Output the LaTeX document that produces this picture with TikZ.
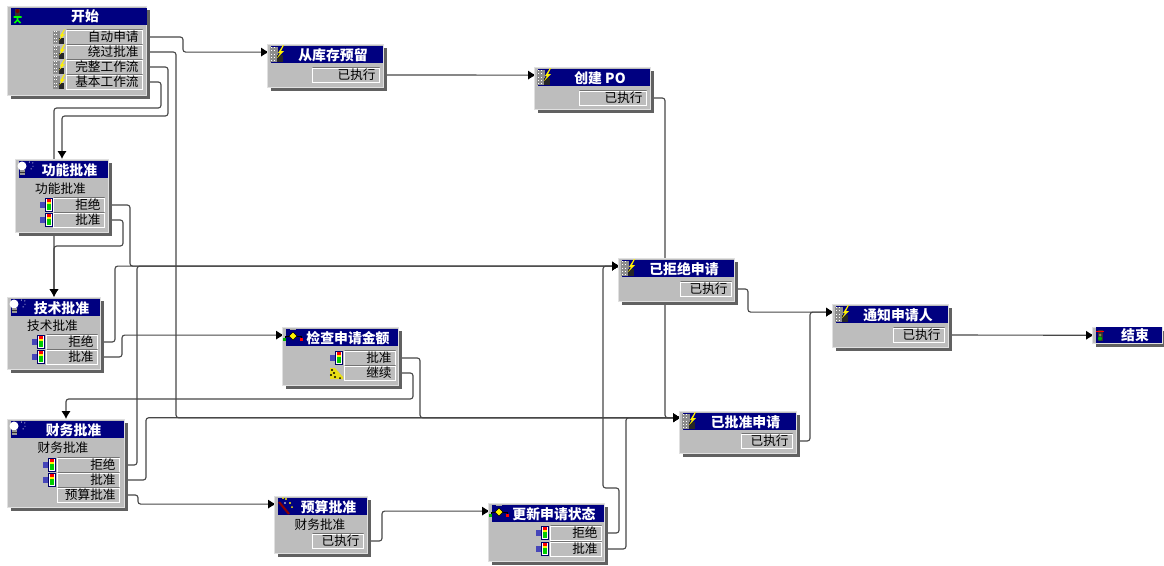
\documentclass[tikz,border=0pt]{standalone}
\usepackage{xcolor}
\usepackage{fontspec}
\setmainfont{Noto Sans CJK SC}
\usepackage{tikz}
\usetikzlibrary{positioning,shapes,arrows.meta,shadows,backgrounds}
\definecolor{barblue}{HTML}{000080}
\definecolor{panel}{HTML}{BDBDBD}
\tikzset{
  box/.style 2 args = {rectangle, anchor=north west, fill=panel, draw=black!12, line width=0.75pt,
    minimum width=#1*0.75pt, minimum height=#2*0.75pt, inner sep=0pt,
    drop shadow={shadow xshift=2.25pt, shadow yshift=-2.25pt, fill=black!62, opacity=1}},
  head/.style 2 args = {rectangle, anchor=north west, fill=barblue, text=white, inner sep=0pt, outer xsep=1.5pt,
    minimum width=#1*0.75pt, minimum height=#2*0.75pt, font=\fontsize{10.4}{10.4}\selectfont\bfseries,
    execute at begin node=\hspace*{9pt}},
  row/.style = {rectangle, anchor=east, fill=panel, inner xsep=3pt, inner ysep=0pt, align=right,
    text width=#1*0.75pt-6pt, minimum height=10.6pt, text height=8pt, text depth=1.6pt,
    font=\fontsize{9.5}{9.5}\selectfont, draw=white, line width=0.6pt,
    path picture={\draw [black!55, line width=1.2pt] (path picture bounding box.south west) |- (path picture bounding box.north east);}},
  pics/flagicon/.style = {code={
    \fill [blue!45!gray] (-7,-3) rectangle (-2,3);
    \fill [white] (-2,-7) rectangle (5,6);
    \draw [blue!40!black, line width=0.4pt] (-2,-7) rectangle (5,6);
    \fill [red] (0,-6) rectangle (4,-3);
    \fill [yellow] (0,-3) rectangle (4,-1);
    \fill [green!80!black] (0,-1) rectangle (4,5);
  }},
  pics/bolticon/.style = {code={
    \fill [black!45] (-7,-7) rectangle (1,8);
    \draw [white, line width=0.5pt, dotted] (-6,-7) -- (-6,8) (-3,-7) -- (-3,8);
    \fill [black!85] (0,1) rectangle (6,8);
    \fill [yellow] (6,-9) -- (1,-1) -- (3,-1) -- (0,4) -- (7,-3) -- (4,-3) -- (7,-9) -- cycle;
  }},
  pics/bulbicon/.style = {code={
    \fill [white] (0,-2) circle (4.5);
    \fill [black!40] (-2.5,2) rectangle (2.5,7);
    \draw [black!80, line width=0.4pt] (-2.5,4) -- (2.5,4);
    \draw [white, line width=0.6pt, dotted] (7,-6) -- (11,-5) -- (11,-1) -- (8,2);
  }},
  pics/walkicon/.style = {code={
    \fill [black!80] (-2.5,-7) rectangle (2.5,1);
    \fill [red!45!black] (0,-5) circle (2);
    \draw [green, line width=1.2pt] (0,1) -- (0,4) (-4,1) -- (4,1) (-3,7) -- (0,4) -- (3,7);
  }},
  pics/stopicon/.style = {code={
    \fill [black!80] (-2.5,-5) rectangle (2.5,6);
    \fill [red] (-4,-4) rectangle (4,-3);
    \fill [yellow!50!black] (0,0) circle (1.5);
    \fill [green!70!black] (0,3.5) circle (2);
  }},
  pics/diamondicon/.style = {code={
    \fill [black!35] (-3,-8) rectangle (3,-7);
    \draw [black, line width=0.6pt] (-8,2) -- (-8,-1) -- (8,-1) -- (8,2);
    \fill [yellow, draw=black, line width=0.5pt] (0,-5) -- (4,-1) -- (0,3) -- (-4,-1) -- cycle;
    \fill [green!70!black] (-10,1) rectangle (-7,4);
    \fill [red] (7,1) rectangle (10,4);
  }},
  pics/wandicon/.style = {code={
    \draw [red!55!black, line width=1.6pt] (-7,-4) -- (3,8);
    \fill [yellow] (0,-7) circle (1.2) (4,-3) circle (1.2) (6,1) circle (1) (-3,-8) circle (1);
    \fill [white] (-1,-3) circle (0.8);
  }},
  pics/booticon/.style = {code={
    \fill [yellow!90!black] (-6,-5) -- (-1,-5) -- (7,4) -- (7,6) -- (-6,6) -- cycle;
    \fill [black] (-4,-3) circle (1.1) (-2,0) circle (1.1) (-5,2) circle (1.1) (-1,4) circle (1.1) (4,5) circle (1);
  }},
}
\tikzstyle{note} = [inner sep=0pt, font=\fontsize{9.5}{9.5}\selectfont]
\tikzstyle{line} = [draw, -{Latex[length=6pt,width=7pt,black]}, rounded corners=2pt, line width=0.85pt, color=black!72]

\begin{document}
\begin{tikzpicture}[x=0.75pt, y=-0.75pt]
        \useasboundingbox (0,0) rectangle (1164,565);
        % Place nodes
        \node at (7,6) [box={139}{89}] (start) {};
        \node at (9,8) [head={136}{17}] (startT) {开始};
        \node at (143,37) [row=76] (start1) {自动申请};
        \node at (143,52) [row=76] (start2) {绕过批准};
        \node at (143,67) [row=76] (start3) {完整工作流};
        \node at (143,82) [row=76] (start4) {基本工作流};

        \node at (267,44) [box={116}{43}] (reserve) {};
        \node at (269,46) [head={112}{17}] (reserveT) {从库存预留};
        \node at (380,75) [row=67] (reserve1) {已执行};

        \node at (534,67) [box={116}{42}] (order) {};
        \node at (536,69) [head={112}{17}] (orderT) {创建 PO};
        \node at (647,98) [row=67] (order1) {已执行};

        \node at (15,159) [box={93}{73}] (func) {};
        \node at (17,161) [head={89}{17}] (funcT) {功能批准};
        \node at (60.5,189) [note] (funcN) {功能批准};
        \node at (105,205) [row=51] (func1) {拒绝};
        \node at (105,220) [row=51] (func2) {批准};

        \node at (7,297) [box={93}{72}] (tech) {};
        \node at (9,299) [head={89}{17}] (techT) {技术批准};
        \node at (52.5,326) [note] (techN) {技术批准};
        \node at (98,342) [row=51] (tech1) {拒绝};
        \node at (98,357) [row=51] (tech2) {批准};

        \node at (282,327) [box={116}{58}] (check) {};
        \node at (284,329) [head={112}{17}] (checkT) {检查申请金额};
        \node at (396,358) [row=51] (check1) {批准};
        \node at (396,373) [row=51] (check2) {继续};

        \node at (7,419) [box={117}{88}] (fin) {};
        \node at (9,421) [head={113}{17}] (finT) {财务批准};
        \node at (63,448) [note] (finN) {财务批准};
        \node at (120,465) [row=62] (fin1) {拒绝};
        \node at (120,480) [row=62] (fin2) {批准};
        \node at (120,495) [row=62] (fin3) {预算批准};

        \node at (274,496) [box={93}{57}] (budget) {};
        \node at (276,498) [head={89}{17}] (budgetT) {预算批准};
        \node at (320,525) [note] (budgetN) {财务批准};
        \node at (364,541) [row=51] (budget1) {已执行};

        \node at (488,503) [box={116}{58}] (update) {};
        \node at (490,505) [head={112}{17}] (updateT) {更新申请状态};
        \node at (602,533) [row=51] (update1) {拒绝};
        \node at (602,549) [row=51] (update2) {批准};

        \node at (618,258) [box={116}{43}] (rejected) {};
        \node at (620,260) [head={112}{17}] (rejectedT) {已拒绝申请};
        \node at (732,289) [row=51] (rejected1) {已执行};

        \node at (679,411) [box={117}{42}] (approved) {};
        \node at (681,413) [head={113}{17}] (approvedT) {已批准申请};
        \node at (793,441) [row=51] (approved1) {已执行};

        \node at (832,304) [box={116}{43}] (notify) {};
        \node at (834,306) [head={112}{17}] (notifyT) {通知申请人};
        \node at (945,335) [row=51] (notify1) {已执行};

        \node at (1092,327) [box={70}{16}] (finish) {};
        \node at (1094,327) [head={66}{16}] (finishT) {结束};

        % Place icons
        \pic at (17.5,16) {walkicon};
        \foreach \y in {37,52,67,82}
            \pic [scale=0.85] at (59,\y) {bolticon};
        \foreach \x/\y in {277/54, 544/77, 628/268, 689/421, 842/314}
            \pic at (\x,\y) {bolticon};
        \foreach \x/\y in {22/168, 14/306, 14/428}
            \pic at (\x,\y) {bulbicon};
        \foreach \x/\y in {47/205, 47/220, 39/342, 39/357, 337/358, 50/465, 50/480, 543/533, 543/549}
            \pic at (\x,\y) {flagicon};
        \foreach \x/\y in {293/337, 499/513}
            \pic at (\x,\y) {diamondicon};
        \pic at (286,506) {wandicon};
        \pic at (336,373) {booticon};
        \pic at (1100,335) {stopicon};

        % Draw edges
        \begin{pgfonlayer}{background}
        \path [line] (start1.east) -- ++(40,0) |- ([yshift=2pt]reserveT.west);
        \path [line] (start2.east) -- ++(33,0) |- ([yshift=3pt]approvedT.west);
        \path [line] (start3.east) -| (168,116) -| (func.north);
        \path [line] (start4.east) -| (161,108) -| (tech.north);
        \path [line] (reserve1.east) -- ([yshift=2pt]orderT.west);
        \path [line] (order1.east) -- ++(18,0) |- ([yshift=3pt]approvedT.west);
        \path [line] (func1.east) -- ++(25,0) |- ([yshift=2pt]rejectedT.west);
        \path [line] (func2.east) -| (123,246) -| (tech.north);
        \path [line] (tech1.east) -- ++(17,0) |- ([yshift=2pt]rejectedT.west);
        \path [line] (tech2.east) -- ++(24,0) |- ([yshift=2pt]checkT.west);
        \path [line] (check1.east) -- ++(24,0) |- ([yshift=3pt]approvedT.west);
        \path [line] (check2.east) -| (413,399) -| (fin.north);
        \path [line] (fin1.east) -- ++(17,0) |- ([yshift=2pt]rejectedT.west);
        \path [line] (fin2.east) -- ++(26,0) |- ([yshift=3pt]approvedT.west);
        \path [line] (fin3.east) -- ++(18,0) |- ([yshift=2pt]budgetT.west);
        \path [line] (budget1.east) -- ++(18,0) |- ([yshift=2pt]updateT.west);
        \path [line] (update1.east) -| (619,488) -| (603,400) |- ([yshift=2pt]rejectedT.west);
        \path [line] (update2.east) -- ++(24,0) |- ([yshift=3pt]approvedT.west);
        \path [line] (rejected1.east) -- ++(16,0) |- ([yshift=2pt]notifyT.west);
        \path [line] (approved1.east) -- ++(17,0) |- ([yshift=2pt]notifyT.west);
        \path [line] (notify1.east) -- (finishT.west);
        \end{pgfonlayer}
    \end{tikzpicture}
\end{document}
